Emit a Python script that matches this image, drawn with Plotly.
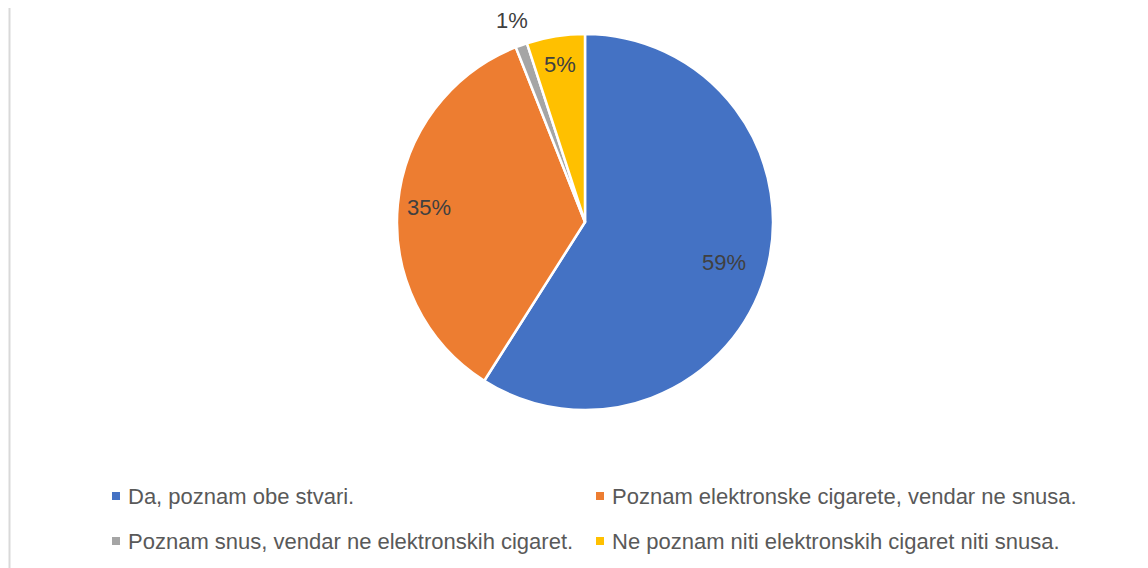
import math
import plotly.graph_objects as go

labels = ["Da, poznam obe stvari.",
          "Poznam elektronske cigarete, vendar ne snusa.",
          "Poznam snus, vendar ne elektronskih cigaret.",
          "Ne poznam niti elektronskih cigaret niti snusa."]
values = [59, 35, 1, 5]
colors = ["#4472C4", "#ED7D31", "#A5A5A5", "#FFC000"]
label_radius = [0.77, 0.835, 1.14, 0.85]   # style: where each % label sits (fraction of radius)

OFF = 8                      # page body margin
W, H = 1148 - OFF, 568 - OFF
FONT = "Liberation Sans, Arial, sans-serif"

cx, cy, r = 585 - OFF, 222 - OFF, 188

def px(x):
    return x / W

def py(y):
    return (H - y) / H

fig = go.Figure(go.Pie(
    labels=labels, values=values, sort=False, direction="clockwise", rotation=0,
    marker=dict(colors=colors, line=dict(color="white", width=2.5)),
    textinfo="none", hoverinfo="label+percent",
    showlegend=False,
    domain=dict(x=[px(cx - r), px(cx + r)], y=[py(cy + r), py(cy - r)]),
))

shapes = [dict(type="line", xref="paper", yref="paper", x0=px(9 - OFF + 0.5), x1=px(9 - OFF + 0.5),
               y0=0, y1=1, line=dict(color="#D9D9D9", width=2))]
annotations = []

# percentage labels placed at the mid-angle of each slice
total = sum(values)
cum = 0
for v, fr in zip(values, label_radius):
    mid = (cum + v / 2) / total * 2 * math.pi
    cum += v
    lx = cx + fr * r * math.sin(mid)
    ly = cy - fr * r * math.cos(mid)
    annotations.append(dict(text=f"{round(100 * v / total)}%", xref="paper", yref="paper",
                            x=px(lx), y=py(ly), xanchor="center", yanchor="middle",
                            showarrow=False,
                            font=dict(family=FONT, size=22, color="#404040")))

# custom legend: 2 x 2 grid
col_x = [112 - OFF, 596 - OFF]
row_y = [496 - OFF, 541 - OFF]
for i, (lab, col) in enumerate(zip(labels, colors)):
    x = col_x[i % 2]
    y = row_y[i // 2]
    shapes.append(dict(type="rect", xref="paper", yref="paper",
                       x0=px(x), x1=px(x + 8), y0=py(y + 4), y1=py(y - 4),
                       fillcolor=col, line=dict(width=0)))
    annotations.append(dict(text=lab, xref="paper", yref="paper", x=px(x + 14), y=py(y),
                            xanchor="left", yanchor="middle", showarrow=False,
                            font=dict(family=FONT, size=22, color="#595959")))

fig.update_layout(width=W, height=H, margin=dict(l=0, r=0, t=0, b=0),
                  paper_bgcolor="white", plot_bgcolor="white",
                  shapes=shapes, annotations=annotations)
fig.write_html("out.html")
